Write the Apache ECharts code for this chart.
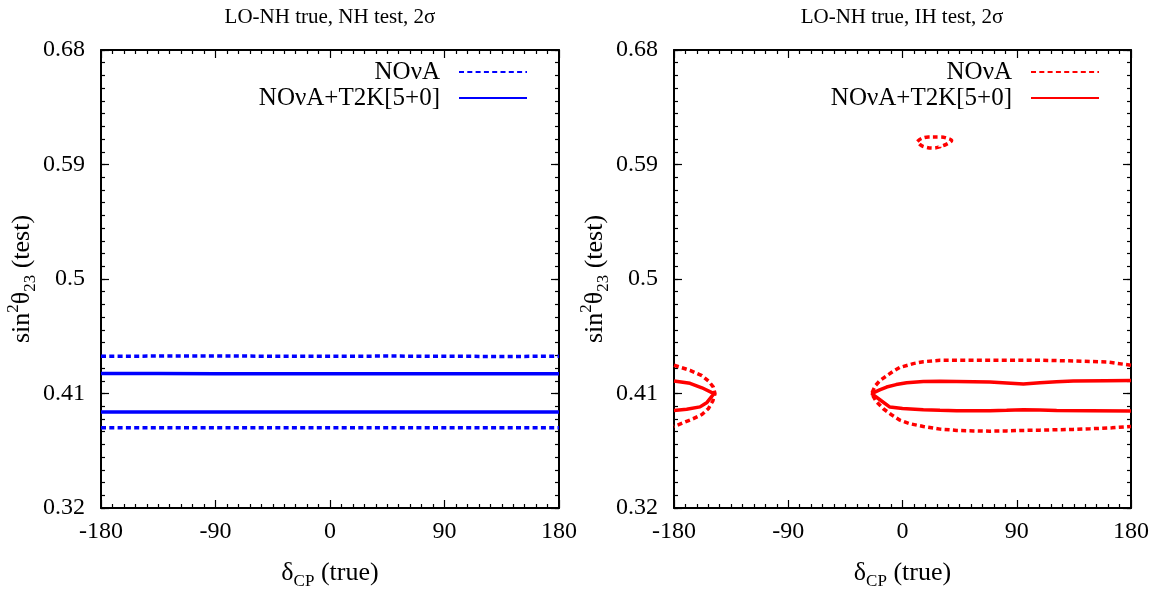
<!DOCTYPE html>
<html><head><meta charset="utf-8">
<script src="https://cdn.jsdelivr.net/npm/echarts@6/dist/echarts.min.js"></script>
<style>html,body{margin:0;padding:0;background:#fff}#c{width:1168px;height:595px}</style>
</head><body><div id="c"></div>
<script>
// ---------- data ----------
const xTicks = [-180, -90, 0, 90, 180];
const yTicks = [0.32, 0.41, 0.5, 0.59, 0.68];
const titles = ['LO-NH true, NH test, 2σ', 'LO-NH true, IH test, 2σ'];
const legendLabels = { nhNova: 'NOνA', nhCombo: 'NOνA+T2K[5+0]', ihNova: 'NOνA', ihCombo: 'NOνA+T2K[5+0]' };

// left panel (NH test)
const nhNovaUpper = [[-180,0.4393],[-135,0.4394],[-90,0.4395],[-45,0.4393],[0,0.4393],[45,0.4394],[90,0.4393],[135,0.4391],[180,0.4393]];
const nhNovaLower = [[-180,0.3831],[-135,0.3830],[-90,0.3830],[-45,0.3831],[0,0.3831],[45,0.3831],[90,0.3830],[135,0.3831],[180,0.3831]];
const nhComboUpper = [[-180,0.4257],[-135,0.4257],[-90,0.4256],[-45,0.4256],[0,0.4256],[45,0.4256],[90,0.4255],[135,0.4256],[180,0.4256]];
const nhComboLower = [[-180,0.3954],[-90,0.3955],[0,0.3954],[90,0.3954],[180,0.3954]];

// right panel (IH test)
const ihNovaLeft = [[-180,0.4322],[-167.4,0.4282],[-158,0.4240],[-152.5,0.4195],[-149,0.4150],[-147.7,0.4099],[-149.5,0.4040],[-153,0.3980],[-158,0.3935],[-164.8,0.3902],[-180,0.3841]];
const ihComboLeft = [[-180,0.4198],[-167.4,0.4180],[-158,0.4145],[-148.5,0.4099],[-154,0.4030],[-159.5,0.3995],[-170,0.3976],[-180,0.3967]];
const ihNovaRight = [[180,0.4322],[160.8,0.4348],[134.5,0.4356],[108.3,0.4361],[82,0.4361],[55.8,0.4361],[29.5,0.4361],[16.4,0.4350],[8.5,0.4335],[-2,0.4305],[-7.3,0.4275],[-13,0.4235],[-17.7,0.4203],[-21.5,0.4160],[-24.3,0.4099],[-20.5,0.4035],[-15.1,0.3980],[-9,0.3935],[-2,0.3890],[6,0.3862],[16.4,0.3841],[29.5,0.3820],[42.7,0.3810],[55.8,0.3806],[68.9,0.3804],[82,0.3806],[95.2,0.3810],[108.3,0.3812],[121.4,0.3815],[134.5,0.3818],[147.7,0.3823],[165,0.3830],[180,0.3841]];
const ihComboRight = [[180,0.4203],[160,0.4201],[134.5,0.4198],[121.4,0.4192],[108.3,0.4185],[95.2,0.4175],[82,0.4183],[68.9,0.4190],[55.8,0.4193],[42.7,0.4195],[29.5,0.4196],[16.4,0.4194],[3.3,0.4185],[-5,0.4170],[-12.5,0.4151],[-18,0.4128],[-24.3,0.4099],[-17,0.4045],[-9.9,0.3993],[0,0.3982],[16.4,0.3973],[29.5,0.3968],[42.7,0.3965],[55.8,0.3965],[68.9,0.3965],[82,0.3968],[95.2,0.3973],[108.3,0.3971],[121.4,0.3967],[147.7,0.3965],[180,0.3962]];
const ihNovaIsland = [[11.7,0.6081],[15.1,0.6105],[20.4,0.6116],[29.5,0.6116],[34.8,0.6108],[38.7,0.6089],[34.8,0.6060],[29.5,0.6040],[24.3,0.6029],[18,0.6037],[14,0.6055],[11.7,0.6081]];

// ---------- styling ----------
const FONT = '"Liberation Serif", "Times New Roman", serif';
const BLUE = '#0000ff', RED = '#ff0000';
const DASH = [5, 3.3];
const yMinor = [];
for (let i = 32; i <= 68; i++) yMinor.push(i / 100);

const grids = [
  { left: 101, top: 50, width: 458, height: 458 },
  { left: 674, top: 50, width: 457, height: 458 }
];

const nameRich = {
  m: { fontFamily: FONT, fontSize: 26, lineHeight: 34, color: '#000' },
  sub: { fontFamily: FONT, fontSize: 17, lineHeight: 17, verticalAlign: 'bottom', color: '#000' },
  sup: { fontFamily: FONT, fontSize: 17, lineHeight: 17, verticalAlign: 'top', color: '#000' }
};
const axLine = { show: true, onZero: false, lineStyle: { color: '#000', width: 2 } };
const noLine = { show: false, onZero: false };
const tickStyle = { color: '#000', width: 1.2 };

function xAxesFor(g) {
  const base = {
    gridIndex: g, type: 'value', min: xTicks[0], max: xTicks[xTicks.length - 1], interval: 90,
    splitLine: { show: false }, axisLine: axLine,
    axisTick: { show: true, inside: true, length: 8, lineStyle: tickStyle },
    minorTick: { show: true, splitNumber: 10, length: 4, lineStyle: tickStyle }
  };
  return [
    Object.assign({}, base, {
      position: 'bottom',
      axisLabel: { show: true, margin: 12, color: '#000', fontFamily: FONT, fontSize: 24 },
      name: '{m|δ}{sub|CP}{m| (true)}', nameLocation: 'middle', nameGap: 48,
      nameTextStyle: { rich: nameRich }
    }),
    Object.assign({}, base, { position: 'top', axisLabel: { show: false } })
  ];
}
function yAxesFor(g) {
  const base = {
    gridIndex: g, type: 'value', min: yTicks[0], max: yTicks[yTicks.length - 1],
    splitLine: { show: false }, axisLine: axLine
  };
  const major = { show: true, inside: true, length: 8, lineStyle: tickStyle, customValues: yTicks };
  const minor = { show: true, inside: true, length: 4, lineStyle: tickStyle, customValues: yMinor };
  return [
    Object.assign({}, base, {
      position: 'left', axisTick: major,
      axisLabel: { show: true, margin: 16, color: '#000', fontFamily: FONT, fontSize: 24, customValues: yTicks },
      name: '{m|sin}{sup|2}{m|θ}{sub|23}{m| (test)}', nameLocation: 'middle', nameGap: 53, nameRotate: 90,
      nameTextStyle: { rich: nameRich }
    }),
    Object.assign({}, base, { position: 'left', axisLine: noLine, axisTick: minor, axisLabel: { show: false } }),
    Object.assign({}, base, { position: 'right', axisTick: major, axisLabel: { show: false } }),
    Object.assign({}, base, { position: 'right', axisLine: noLine, axisTick: minor, axisLabel: { show: false } })
  ];
}

function line(name, data, color, dashed, g) {
  return {
    type: 'line', name: name, data: data, xAxisIndex: g * 2, yAxisIndex: g * 4,
    symbol: 'none', showSymbol: false, smooth: false, clip: true, animation: false,
    lineStyle: { color: color, width: 3.5, type: dashed ? DASH : 'solid', cap: 'butt' },
    itemStyle: { color: color }
  };
}

const legendBase = {
  orient: 'vertical', align: 'right', top: 59, padding: 0, itemGap: 0,
  itemWidth: 68, itemHeight: 14,
  itemStyle: { color: 'rgba(0,0,0,0)', borderWidth: 0, opacity: 0 },
  textStyle: { fontFamily: FONT, fontSize: 25, lineHeight: 26, color: '#000', padding: [0, 14, 0, 0] },
  formatter: function (n) { return legendLabels[n]; },
  selectedMode: false
};

const option = {
  animation: false,
  backgroundColor: '#fff',
  title: [
    { text: titles[0], left: 330, top: 7, padding: 0, textAlign: 'center',
      textStyle: { fontFamily: FONT, fontSize: 21, fontWeight: 'normal', color: '#000', lineHeight: 21 } },
    { text: titles[1], left: 902, top: 7, padding: 0, textAlign: 'center',
      textStyle: { fontFamily: FONT, fontSize: 21, fontWeight: 'normal', color: '#000', lineHeight: 21 } }
  ],
  legend: [
    Object.assign({}, legendBase, { data: ['nhNova', 'nhCombo'], right: 640 }),
    Object.assign({}, legendBase, { data: ['ihNova', 'ihCombo'], right: 68 })
  ],
  grid: grids,
  xAxis: xAxesFor(0).concat(xAxesFor(1)),
  yAxis: yAxesFor(0).concat(yAxesFor(1)),
  series: [
    line('nhNova', nhNovaUpper, BLUE, true, 0),
    line('nhNova', nhNovaLower, BLUE, true, 0),
    line('nhCombo', nhComboUpper, BLUE, false, 0),
    line('nhCombo', nhComboLower, BLUE, false, 0),
    line('ihNova', ihNovaLeft, RED, true, 1),
    line('ihNova', ihNovaRight, RED, true, 1),
    Object.assign(line('ihNova', ihNovaIsland, RED, true, 1), { smooth: 0.4 }),
    line('ihCombo', ihComboLeft, RED, false, 1),
    line('ihCombo', ihComboRight, RED, false, 1)
  ]
};

const chart = echarts.init(document.getElementById('c'), null, { renderer: 'canvas' });
chart.setOption(option);
</script>
</body></html>
